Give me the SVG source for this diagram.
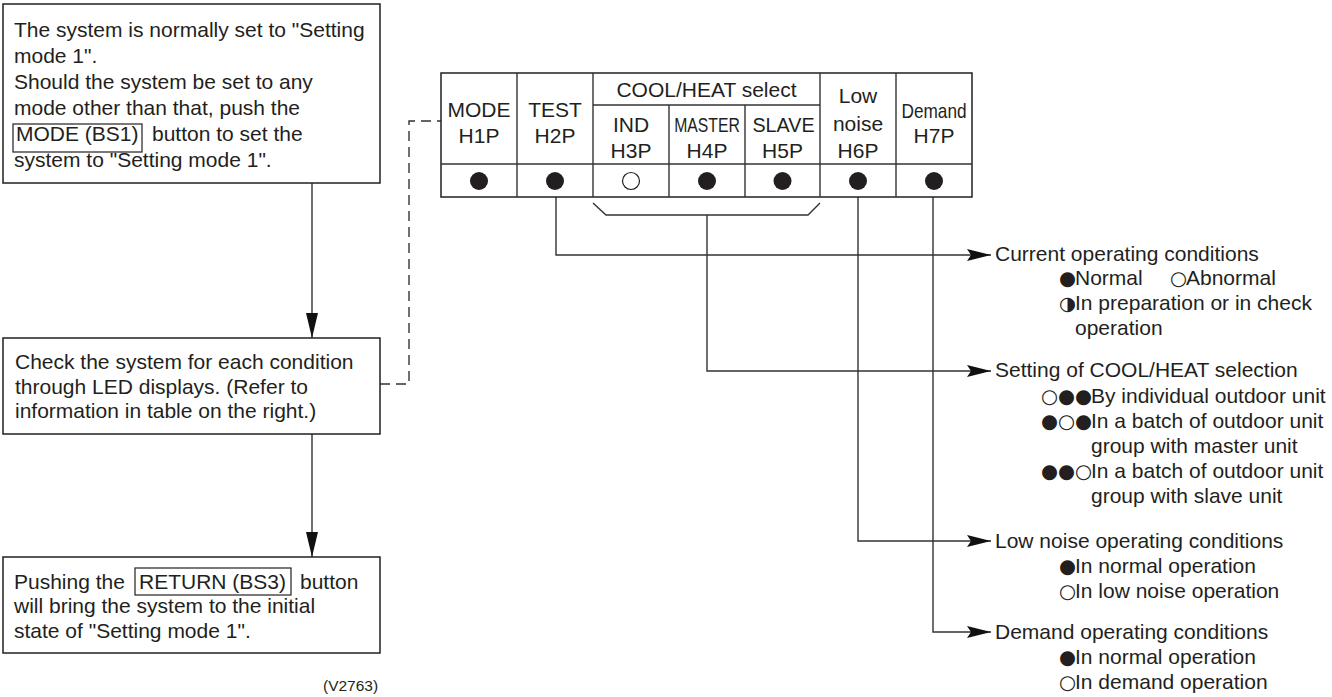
<svg xmlns="http://www.w3.org/2000/svg" width="1332" height="697" viewBox="0 0 1332 697">
<style>
.t{font-family:"Liberation Sans",Arial,sans-serif;font-size:21px;fill:#231f20}
.c{text-anchor:middle}
.sym{font-family:"DejaVu Sans",sans-serif;font-size:19.5px}
.box{fill:#fff;stroke:#231f20;stroke-width:1.5}
.btn{fill:none;stroke:#231f20;stroke-width:1.2}
.ln{fill:none;stroke:#333;stroke-width:1.4}
.dash{stroke-dasharray:10 6}
.dot{fill:#231f20}
.odot{fill:#fff;stroke:#231f20;stroke-width:1.2}
</style>
<defs>
<marker id="av" viewBox="0 0 25 12" markerWidth="25" markerHeight="12" refX="25" refY="6" markerUnits="userSpaceOnUse" orient="auto">
<path d="M0,0 L25,6 L0,12 Z" fill="#111"/>
</marker>
<marker id="ah" viewBox="0 0 24 12" markerWidth="24" markerHeight="12" refX="24" refY="6" markerUnits="userSpaceOnUse" orient="auto">
<path d="M0,0 L24,6 L0,12 L4,6 Z" fill="#111"/>
</marker>
</defs>
<rect width="1332" height="697" fill="#fff"/>

<g id="connectors">
<line class="ln" x1="312" y1="183" x2="312" y2="338" marker-end="url(#av)"/>
<line class="ln" x1="312" y1="434" x2="312" y2="557" marker-end="url(#av)"/>
<polyline class="ln dash" points="380,384 409,384 409,121 441,121"/>
<polyline class="ln" points="593,203 606,215 808,215 820,203"/>
<polyline class="ln" points="556,197 556,255 991,255" marker-end="url(#ah)"/>
<polyline class="ln" points="707,215 707,371 991,371" marker-end="url(#ah)"/>
<polyline class="ln" points="858,197 858,541 991,541" marker-end="url(#ah)"/>
<polyline class="ln" points="933,197 933,632 991,632" marker-end="url(#ah)"/>
</g>

<g id="step1">
<rect class="box" x="3" y="4" width="377" height="179"/>
<rect class="btn" x="13" y="124" width="129" height="28"/>
<text class="t" x="14" y="37">The system is normally set to "Setting</text>
<text class="t" x="14" y="63">mode 1".</text>
<text class="t" x="14" y="89">Should the system be set to any</text>
<text class="t" x="14" y="115">mode other than that, push the</text>
<text class="t" y="141"><tspan x="16">MODE (BS1)</tspan><tspan x="152">button to set the</tspan></text>
<text class="t" x="14" y="167">system to "Setting mode 1".</text>
</g>

<g id="step2">
<rect class="box" x="3" y="338" width="377" height="96"/>
<text class="t" x="15" y="369">Check the system for each condition</text>
<text class="t" x="15" y="394">through LED displays. (Refer to</text>
<text class="t" x="15" y="418">information in table on the right.)</text>
</g>

<g id="step3">
<rect class="box" x="3" y="557" width="377" height="96"/>
<rect class="btn" x="135" y="568" width="156" height="27"/>
<text class="t" y="589"><tspan x="14">Pushing the</tspan><tspan x="139">RETURN (BS3)</tspan><tspan x="300">button</tspan></text>
<text class="t" x="14" y="613">will bring the system to the initial</text>
<text class="t" x="14" y="638">state of "Setting mode 1".</text>
</g>

<g id="led-table">
<rect x="441" y="73" width="531" height="124" fill="#fff" stroke="#231f20" stroke-width="1.5"/>
<g class="ln">
<line x1="441" y1="164" x2="972" y2="164"/>
<line x1="593" y1="105" x2="820" y2="105"/>
<line x1="517" y1="73" x2="517" y2="197"/>
<line x1="593" y1="73" x2="593" y2="197"/>
<line x1="669" y1="105" x2="669" y2="197"/>
<line x1="745" y1="105" x2="745" y2="197"/>
<line x1="820" y1="73" x2="820" y2="197"/>
<line x1="896" y1="73" x2="896" y2="197"/>
</g>
<text class="t c" x="479" y="117">MODE</text>
<text class="t c" x="479" y="143">H1P</text>
<text class="t c" x="555" y="117">TEST</text>
<text class="t c" x="555" y="143">H2P</text>
<text class="t c" x="706.5" y="97">COOL/HEAT select</text>
<text class="t c" x="631" y="132">IND</text>
<text class="t c" x="631" y="158">H3P</text>
<text class="t c" transform="translate(707,132) scale(0.75,1)" x="0" y="0">MASTER</text>
<text class="t c" x="707" y="158">H4P</text>
<text class="t c" transform="translate(783.5,132) scale(0.94,1)" x="0" y="0">SLAVE</text>
<text class="t c" x="782.5" y="158">H5P</text>
<text class="t c" x="858" y="103">Low</text>
<text class="t c" x="858" y="131">noise</text>
<text class="t c" x="858" y="158">H6P</text>
<text class="t c" transform="translate(934,118) scale(0.82,1)" x="0" y="0">Demand</text>
<text class="t c" x="934" y="143">H7P</text>
<circle class="dot" cx="479" cy="181" r="9"/>
<circle class="dot" cx="555" cy="181" r="9"/>
<circle class="odot" cx="631" cy="181" r="8.5"/>
<circle class="dot" cx="707" cy="181" r="9"/>
<circle class="dot" cx="782.5" cy="181" r="9"/>
<circle class="dot" cx="858" cy="181" r="9"/>
<circle class="dot" cx="934" cy="181" r="9"/>
</g>

<g id="current-conditions">
<text class="t" x="995" y="261">Current operating conditions</text>
<text class="t" y="285"><tspan class="sym" x="1059">●</tspan><tspan x="1075">Normal</tspan><tspan class="sym" x="1170">○</tspan><tspan x="1186">Abnormal</tspan></text>
<text class="t" y="310"><tspan class="sym" x="1059">◑</tspan><tspan x="1075">In preparation or in check</tspan></text>
<text class="t" x="1075" y="335">operation</text>
</g>

<g id="coolheat-setting">
<text class="t" x="995" y="377">Setting of COOL/HEAT selection</text>
<text class="t" y="403"><tspan class="sym" x="1041">○●●</tspan><tspan x="1091">By individual outdoor unit</tspan></text>
<text class="t" y="428"><tspan class="sym" x="1041">●○●</tspan><tspan x="1091">In a batch of outdoor unit</tspan></text>
<text class="t" x="1091" y="453">group with master unit</text>
<text class="t" y="478"><tspan class="sym" x="1041">●●○</tspan><tspan x="1091">In a batch of outdoor unit</tspan></text>
<text class="t" x="1091" y="503">group with slave unit</text>
</g>

<g id="low-noise">
<text class="t" x="995" y="548">Low noise operating conditions</text>
<text class="t" y="573"><tspan class="sym" x="1059">●</tspan><tspan x="1075">In normal operation</tspan></text>
<text class="t" y="598"><tspan class="sym" x="1059">○</tspan><tspan x="1075">In low noise operation</tspan></text>
</g>

<g id="demand">
<text class="t" x="995" y="639">Demand operating conditions</text>
<text class="t" y="664"><tspan class="sym" x="1059">●</tspan><tspan x="1075">In normal operation</tspan></text>
<text class="t" y="689"><tspan class="sym" x="1059">○</tspan><tspan x="1075">In demand operation</tspan></text>
</g>

<text class="t" x="323" y="691" style="font-size:15.5px">(V2763)</text>
</svg>
